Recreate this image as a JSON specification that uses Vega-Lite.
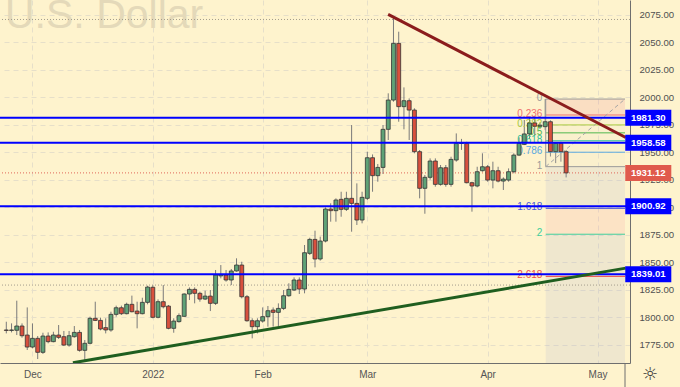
{
  "$schema": "https://vega.github.io/schema/vega-lite/v6.json",
  "width": 630,
  "height": 363,
  "autosize": {"type": "none"},
  "padding": {"left": 0, "top": 0, "right": 50, "bottom": 24},
  "background": "#fef3cd",
  "config": {
    "view": {"stroke": null},
    "font": "Liberation Sans",
    "axisY": {"labelOverlap": false, "grid": true, "gridColor": "#e6dfc9", "gridDash": [5, 4], "gridWidth": 1,
      "domainColor": "#6e6e6e", "ticks": false, "tickSize": 0, "labelPadding": 9, "labelFlush": false,
      "labelFontSize": 9.6, "labelColor": "#505050", "labelFont": "Liberation Sans"},
    "axisX": {"labelOverlap": false, "grid": true, "gridColor": "#e6dfc9", "gridDash": [5, 4], "gridWidth": 1,
      "domainColor": "#6e6e6e", "ticks": false, "tickSize": 0, "labelPadding": 6, "labelFlush": false,
      "labelFontSize": 10, "labelColor": "#555555", "labelFont": "Liberation Sans"}
  },
  "resolve": {"scale": {"fill": "independent", "stroke": "independent", "color": "independent"}},
  "datasets": {
    "candles": [
      {"i":0,"o":1788.4,"h":1795.9,"l":1785.3,"c":1788.0},
      {"i":1,"o":1788.0,"h":1794.4,"l":1786.2,"c":1788.4},
      {"i":2,"o":1788.1,"h":1815.0,"l":1783.8,"c":1792.0},
      {"i":3,"o":1792.0,"h":1794.4,"l":1781.4,"c":1783.2},
      {"i":4,"o":1783.8,"h":1808.9,"l":1770.2,"c":1772.9},
      {"i":5,"o":1772.9,"h":1794.4,"l":1771.7,"c":1780.8},
      {"i":6,"o":1780.8,"h":1782.9,"l":1762.0,"c":1768.1},
      {"i":7,"o":1768.1,"h":1785.9,"l":1766.6,"c":1782.9},
      {"i":8,"o":1782.9,"h":1786.2,"l":1776.3,"c":1777.8},
      {"i":9,"o":1777.8,"h":1786.8,"l":1777.2,"c":1783.8},
      {"i":10,"o":1783.8,"h":1792.9,"l":1780.2,"c":1781.7},
      {"i":11,"o":1782.3,"h":1787.5,"l":1773.8,"c":1774.7},
      {"i":12,"o":1774.7,"h":1787.5,"l":1773.2,"c":1783.2},
      {"i":13,"o":1782.3,"h":1792.0,"l":1781.4,"c":1786.2},
      {"i":14,"o":1786.2,"h":1788.4,"l":1768.7,"c":1769.9},
      {"i":15,"o":1769.9,"h":1779.3,"l":1760.5,"c":1776.3},
      {"i":16,"o":1776.3,"h":1800.5,"l":1775.3,"c":1799.0},
      {"i":17,"o":1799.0,"h":1814.1,"l":1796.5,"c":1797.1},
      {"i":18,"o":1797.1,"h":1799.6,"l":1788.1,"c":1789.3},
      {"i":19,"o":1790.5,"h":1799.0,"l":1785.3,"c":1788.4},
      {"i":20,"o":1788.4,"h":1805.0,"l":1786.8,"c":1802.6},
      {"i":21,"o":1802.6,"h":1810.5,"l":1800.5,"c":1808.6},
      {"i":22,"o":1808.6,"h":1810.5,"l":1802.0,"c":1803.2},
      {"i":23,"o":1803.2,"h":1813.2,"l":1802.6,"c":1811.7},
      {"i":24,"o":1811.7,"h":1819.6,"l":1804.4,"c":1805.0},
      {"i":25,"o":1805.6,"h":1814.1,"l":1789.9,"c":1803.2},
      {"i":26,"o":1803.2,"h":1817.7,"l":1802.6,"c":1813.5},
      {"i":27,"o":1813.5,"h":1828.6,"l":1811.7,"c":1827.4},
      {"i":28,"o":1827.2,"h":1829.2,"l":1799.0,"c":1799.9},
      {"i":29,"o":1799.9,"h":1816.2,"l":1799.0,"c":1814.1},
      {"i":30,"o":1814.1,"h":1829.2,"l":1808.0,"c":1809.5},
      {"i":31,"o":1810.1,"h":1811.1,"l":1789.0,"c":1789.9},
      {"i":32,"o":1789.9,"h":1799.0,"l":1785.9,"c":1796.5},
      {"i":33,"o":1796.0,"h":1803.5,"l":1795.0,"c":1801.4},
      {"i":34,"o":1800.8,"h":1821.7,"l":1800.5,"c":1821.1},
      {"i":35,"o":1821.1,"h":1827.1,"l":1815.6,"c":1825.3},
      {"i":36,"o":1825.3,"h":1827.1,"l":1812.6,"c":1821.7},
      {"i":37,"o":1821.7,"h":1823.2,"l":1814.1,"c":1816.5},
      {"i":38,"o":1816.5,"h":1824.1,"l":1815.6,"c":1819.2},
      {"i":39,"o":1819.2,"h":1824.7,"l":1805.6,"c":1812.6},
      {"i":40,"o":1812.6,"h":1842.9,"l":1811.1,"c":1838.3},
      {"i":41,"o":1837.5,"h":1847.4,"l":1835.3,"c":1838.6},
      {"i":42,"o":1838.3,"h":1842.9,"l":1832.3,"c":1833.8},
      {"i":43,"o":1833.8,"h":1843.8,"l":1829.2,"c":1842.0},
      {"i":44,"o":1842.0,"h":1853.5,"l":1841.4,"c":1847.4},
      {"i":45,"o":1847.4,"h":1850.4,"l":1817.1,"c":1818.6},
      {"i":46,"o":1818.6,"h":1820.2,"l":1795.9,"c":1796.8},
      {"i":47,"o":1796.8,"h":1799.0,"l":1780.8,"c":1791.4},
      {"i":48,"o":1791.4,"h":1799.0,"l":1785.3,"c":1796.8},
      {"i":49,"o":1796.5,"h":1808.9,"l":1795.0,"c":1800.5},
      {"i":50,"o":1800.5,"h":1810.2,"l":1791.4,"c":1805.9},
      {"i":51,"o":1806.5,"h":1808.9,"l":1791.4,"c":1804.4},
      {"i":52,"o":1804.4,"h":1812.6,"l":1792.0,"c":1808.0},
      {"i":53,"o":1808.0,"h":1824.7,"l":1806.5,"c":1819.5},
      {"i":54,"o":1819.5,"h":1830.8,"l":1818.6,"c":1825.3},
      {"i":55,"o":1824.7,"h":1836.2,"l":1823.8,"c":1833.8},
      {"i":56,"o":1833.8,"h":1836.2,"l":1821.1,"c":1825.6},
      {"i":57,"o":1825.6,"h":1865.6,"l":1821.7,"c":1858.6},
      {"i":58,"o":1858.0,"h":1872.2,"l":1856.5,"c":1870.7},
      {"i":59,"o":1870.7,"h":1878.6,"l":1845.3,"c":1852.9},
      {"i":60,"o":1852.9,"h":1873.2,"l":1851.4,"c":1869.2},
      {"i":61,"o":1869.2,"h":1899.8,"l":1868.0,"c":1898.3},
      {"i":62,"o":1898.3,"h":1903.5,"l":1886.8,"c":1896.8},
      {"i":63,"o":1896.8,"h":1908.0,"l":1886.8,"c":1906.5},
      {"i":64,"o":1907.1,"h":1914.0,"l":1891.3,"c":1898.0},
      {"i":65,"o":1898.0,"h":1914.0,"l":1896.5,"c":1908.0},
      {"i":66,"o":1908.0,"h":1974.6,"l":1877.7,"c":1903.4},
      {"i":67,"o":1903.4,"h":1921.6,"l":1883.8,"c":1888.3},
      {"i":68,"o":1888.3,"h":1914.0,"l":1885.3,"c":1908.9},
      {"i":69,"o":1908.0,"h":1950.4,"l":1906.5,"c":1944.9},
      {"i":70,"o":1944.9,"h":1947.9,"l":1914.0,"c":1928.6},
      {"i":71,"o":1928.6,"h":1939.2,"l":1923.1,"c":1936.1},
      {"i":72,"o":1936.1,"h":1974.6,"l":1930.1,"c":1970.7},
      {"i":73,"o":1970.7,"h":2003.4,"l":1961.0,"c":1997.3},
      {"i":74,"o":1997.3,"h":2073.0,"l":1995.8,"c":2048.8},
      {"i":75,"o":2048.8,"h":2059.4,"l":1977.6,"c":1991.3},
      {"i":76,"o":1991.3,"h":2008.8,"l":1970.7,"c":1996.7},
      {"i":77,"o":1996.7,"h":1998.8,"l":1961.0,"c":1988.2},
      {"i":78,"o":1988.2,"h":1989.8,"l":1948.9,"c":1950.4},
      {"i":79,"o":1950.4,"h":1951.9,"l":1908.0,"c":1917.1},
      {"i":80,"o":1917.1,"h":1929.2,"l":1894.0,"c":1927.1},
      {"i":81,"o":1927.1,"h":1944.3,"l":1925.0,"c":1941.9},
      {"i":82,"o":1941.9,"h":1944.3,"l":1918.6,"c":1920.7},
      {"i":83,"o":1920.7,"h":1938.3,"l":1919.5,"c":1935.8},
      {"i":84,"o":1935.8,"h":1938.3,"l":1918.6,"c":1920.7},
      {"i":85,"o":1920.7,"h":1945.8,"l":1918.6,"c":1943.4},
      {"i":86,"o":1942.8,"h":1967.0,"l":1941.3,"c":1957.9},
      {"i":87,"o":1957.9,"h":1962.0,"l":1952.0,"c":1958.3},
      {"i":88,"o":1957.9,"h":1959.4,"l":1921.6,"c":1922.2},
      {"i":89,"o":1922.2,"h":1923.1,"l":1895.9,"c":1919.2},
      {"i":90,"o":1919.2,"h":1936.7,"l":1918.0,"c":1932.2},
      {"i":91,"o":1933.1,"h":1948.9,"l":1932.2,"c":1936.7},
      {"i":92,"o":1936.7,"h":1938.3,"l":1923.1,"c":1924.6},
      {"i":93,"o":1924.6,"h":1941.3,"l":1917.1,"c":1933.1},
      {"i":94,"o":1933.1,"h":1936.7,"l":1922.5,"c":1923.7},
      {"i":95,"o":1923.7,"h":1927.1,"l":1915.6,"c":1925.5},
      {"i":96,"o":1924.6,"h":1935.2,"l":1923.1,"c":1932.2},
      {"i":97,"o":1932.2,"h":1948.9,"l":1930.7,"c":1947.3},
      {"i":98,"o":1947.3,"h":1963.4,"l":1946.4,"c":1957.9},
      {"i":99,"o":1957.0,"h":1979.2,"l":1956.4,"c":1966.5},
      {"i":100,"o":1966.5,"h":1981.0,"l":1962.0,"c":1976.5},
      {"i":101,"o":1976.5,"h":1983.0,"l":1965.0,"c":1973.5},
      {"i":102,"o":1973.5,"h":1977.0,"l":1971.0,"c":1974.5},
      {"i":103,"o":1973.1,"h":1998.2,"l":1970.0,"c":1977.6},
      {"i":104,"o":1977.6,"h":1979.0,"l":1946.0,"c":1950.4},
      {"i":105,"o":1950.4,"h":1959.0,"l":1940.0,"c":1958.0},
      {"i":106,"o":1958.0,"h":1959.5,"l":1941.3,"c":1950.4},
      {"i":107,"o":1950.4,"h":1952.0,"l":1927.0,"c":1931.12}
    ],
    "hlines": [{"p":1981.30},{"p":1958.58},{"p":1900.92},{"p":1839.01}],
    "tags": [
      {"k":"level","p":1981.30},{"k":"level","p":1958.58},{"k":"level","p":1900.92},{"k":"level","p":1839.01},{"k":"last","p":1931.12}
    ],
    "dotted": [{"k":"hi","p":2070.5},{"k":"lo","p":1829.2},{"k":"last","p":1931.12}],
    "fib": [
      {"lvl":"0","p":1998.2},{"lvl":"0.236","p":1983.7},{"lvl":"0.382","p":1974.7},{"lvl":"0.5","p":1967.5},
      {"lvl":"0.618","p":1960.3},{"lvl":"0.786","p":1949.9},{"lvl":"1","p":1936.8},{"lvl":"1.618","p":1898.9},
      {"lvl":"2","p":1875.4},{"lvl":"2.618","p":1837.1}
    ],
    "zones": [
      {"z":"a","top":1998.2,"bot":1983.7},{"z":"b","top":1983.7,"bot":1936.8},{"z":"c","top":1936.8,"bot":1898.9},
      {"z":"d","top":1898.9,"bot":1875.4},{"z":"e","top":1875.4,"bot":1758.4}
    ],
    "trend": [
      {"n":"down","i":72.98,"p":2075.2},{"n":"down","i":118.4,"p":1963.3},
      {"n":"up","i":12.73,"p":1758.6},{"n":"up","i":118.4,"p":1844.6}
    ],
    "wm": [{"t":"U.S. Dollar"}],
    "icon": [{"t":"☼"}]
  },
  "layer": [
    {
      "data": {"name": "candles"},
      "mark": {"type": "rule", "color": "#7a7a7a", "strokeWidth": 1},
      "encoding": {
        "x": {"field": "i", "type": "quantitative", "title": null,
          "scale": {"domain": [-0.25, 118.25], "nice": false, "zero": false},
          "axis": {"orient": "bottom", "values": [5, 28, 49, 69, 92, 113], "title": null,
            "labelExpr": "datum.value == 5 ? 'Dec' : datum.value == 28 ? '2022' : datum.value == 49 ? 'Feb' : datum.value == 69 ? 'Mar' : datum.value == 92 ? 'Apr' : 'May'"}},
        "y": {"field": "l", "type": "quantitative", "title": null,
          "scale": {"domain": [1758.4, 2088.2], "nice": false, "zero": false},
          "axis": {"orient": "right", "format": ".2f", "title": null, "values": [1775,1800,1825,1850,1875,1900,1925,1950,1975,2000,2025,2050,2075]}},
        "y2": {"field": "h"}
      }
    },
    {
      "data": {"name": "wm"},
      "mark": {"type": "text", "align": "left", "baseline": "alphabetic", "fontSize": 41, "color": "#e4d9b9", "font": "Liberation Sans"},
      "encoding": {
        "x": {"datum": -0.25, "type": "quantitative", "title": null},
        "y": {"datum": 2062.5, "type": "quantitative", "title": null,
          "axis": {"orient": "right", "format": ".2f", "title": null, "values": [1775,1800,1825,1850,1875,1900,1925,1950,1975,2000,2025,2050,2075]}},
        "text": {"field": "t"}
      }
    },
    {
      "data": {"name": "zones"},
      "mark": {"type": "rect", "opacity": 0.17},
      "encoding": {
        "x": {"datum": 103.1, "type": "quantitative", "title": null},
        "x2": {"datum": 118.25},
        "y": {"field": "top", "type": "quantitative", "title": null,
          "axis": {"orient": "right", "format": ".2f", "title": null, "values": [1775,1800,1825,1850,1875,1900,1925,1950,1975,2000,2025,2050,2075]}},
        "y2": {"field": "bot"},
        "fill": {"field": "z", "type": "nominal", "legend": null,
          "scale": {"domain": ["a","b","c","d","e"], "range": ["#e5768f","#e5e0cd","#a7aed3","#f295a1","#a7aed3"]}}
      }
    },
    {
      "data": {"name": "dotted"},
      "mark": {"type": "rule", "strokeDash": [1, 2], "strokeWidth": 1},
      "encoding": {
        "y": {"field": "p", "type": "quantitative", "title": null,
          "axis": {"orient": "right", "format": ".2f", "title": null, "values": [1775,1800,1825,1850,1875,1900,1925,1950,1975,2000,2025,2050,2075]}},
        "stroke": {"field": "k", "type": "nominal", "legend": null,
          "scale": {"domain": ["hi","lo","last"], "range": ["#a39d8c","#a39d8c","#e0665a"]}}
      }
    },
    {
      "data": {"name": "fib"},
      "mark": {"type": "rule", "strokeWidth": 1},
      "encoding": {
        "x": {"datum": 103.1, "type": "quantitative", "title": null},
        "x2": {"datum": 118.25},
        "y": {"field": "p", "type": "quantitative", "title": null,
          "axis": {"orient": "right", "format": ".2f", "title": null, "values": [1775,1800,1825,1850,1875,1900,1925,1950,1975,2000,2025,2050,2075]}},
        "stroke": {"field": "lvl", "type": "nominal", "legend": null,
          "scale": {"domain": ["0","0.236","0.382","0.5","0.618","0.786","1","1.618","2","2.618"],
            "range": ["#9a9a9a","#ef6f6c","#a8c93c","#52b84f","#2fc09a","#5aa9e0","#9a9a9a","#4b55d8","#40cf9b","#ef4b4b"]}}
      }
    },
    {
      "data": {"name": "wm"},
      "mark": {"type": "rule", "color": "#9a9a9a", "strokeWidth": 1},
      "encoding": {
        "x": {"datum": 103.1, "type": "quantitative", "title": null},
        "y": {"datum": 1998.2, "type": "quantitative", "title": null,
          "axis": {"orient": "right", "format": ".2f", "title": null, "values": [1775,1800,1825,1850,1875,1900,1925,1950,1975,2000,2025,2050,2075]}},
        "y2": {"datum": 1936.8}
      }
    },
    {
      "data": {"name": "wm"},
      "mark": {"type": "rule", "color": "#a5a5a5", "strokeWidth": 1, "strokeDash": [4, 3]},
      "encoding": {
        "x": {"datum": 103.1, "type": "quantitative", "title": null},
        "x2": {"datum": 118.25},
        "y": {"datum": 1936.8, "type": "quantitative", "title": null,
          "axis": {"orient": "right", "format": ".2f", "title": null, "values": [1775,1800,1825,1850,1875,1900,1925,1950,1975,2000,2025,2050,2075]}},
        "y2": {"datum": 1998.2}
      }
    },
    {
      "data": {"name": "fib"},
      "mark": {"type": "text", "align": "right", "baseline": "middle", "dy": -1, "fontSize": 10, "font": "Liberation Sans"},
      "encoding": {
        "x": {"datum": 102.45, "type": "quantitative", "title": null},
        "y": {"field": "p", "type": "quantitative", "title": null,
          "axis": {"orient": "right", "format": ".2f", "title": null, "values": [1775,1800,1825,1850,1875,1900,1925,1950,1975,2000,2025,2050,2075]}},
        "text": {"field": "lvl"},
        "color": {"field": "lvl", "type": "nominal", "legend": null,
          "scale": {"domain": ["0","0.236","0.382","0.5","0.618","0.786","1","1.618","2","2.618"],
            "range": ["#9a9a9a","#ef6f6c","#a8c93c","#52b84f","#2fc09a","#5aa9e0","#9a9a9a","#4b55d8","#40cf9b","#ef4b4b"]}}
      }
    },
    {
      "data": {"name": "candles"},
      "mark": {"type": "bar", "width": 3.9, "stroke": "#333333", "strokeWidth": 0.8},
      "encoding": {
        "x": {"field": "i", "type": "quantitative", "title": null},
        "y": {"field": "o", "type": "quantitative", "title": null,
          "axis": {"orient": "right", "format": ".2f", "title": null, "values": [1775,1800,1825,1850,1875,1900,1925,1950,1975,2000,2025,2050,2075]}},
        "y2": {"field": "c"},
        "fill": {"condition": {"test": "datum.c >= datum.o", "value": "#5fa277"}, "value": "#d8503d"}
      }
    },
    {
      "data": {"name": "hlines"},
      "mark": {"type": "rule", "color": "#0000ff", "strokeWidth": 2},
      "encoding": {
        "y": {"field": "p", "type": "quantitative", "title": null,
          "axis": {"orient": "right", "format": ".2f", "title": null, "values": [1775,1800,1825,1850,1875,1900,1925,1950,1975,2000,2025,2050,2075]}}
      }
    },
    {
      "data": {"name": "trend"},
      "mark": {"type": "line", "strokeWidth": 3, "clip": true},
      "encoding": {
        "x": {"field": "i", "type": "quantitative", "title": null},
        "y": {"field": "p", "type": "quantitative", "title": null,
          "axis": {"orient": "right", "format": ".2f", "title": null, "values": [1775,1800,1825,1850,1875,1900,1925,1950,1975,2000,2025,2050,2075]}},
        "stroke": {"field": "n", "type": "nominal", "legend": null,
          "scale": {"domain": ["down","up"], "range": ["#8b1c1c","#1f5e1f"]}}
      }
    },
    {
      "data": {"name": "tags"},
      "mark": {"type": "rect", "height": 16},
      "encoding": {
        "x": {"datum": 118.3, "type": "quantitative", "title": null},
        "x2": {"datum": 127.1},
        "y": {"field": "p", "type": "quantitative", "title": null,
          "axis": {"orient": "right", "format": ".2f", "title": null, "values": [1775,1800,1825,1850,1875,1900,1925,1950,1975,2000,2025,2050,2075]}},
        "fill": {"condition": {"test": "datum.k == 'last'", "value": "#e05a4c"}, "value": "#0000ff"}
      }
    },
    {
      "data": {"name": "tags"},
      "mark": {"type": "text", "fontSize": 9.6, "fontWeight": "bold", "color": "#ffffff", "baseline": "middle", "align": "center", "font": "Liberation Sans"},
      "encoding": {
        "x": {"datum": 122.7, "type": "quantitative", "title": null},
        "y": {"field": "p", "type": "quantitative", "title": null,
          "axis": {"orient": "right", "format": ".2f", "title": null, "values": [1775,1800,1825,1850,1875,1900,1925,1950,1975,2000,2025,2050,2075]}},
        "text": {"field": "p", "type": "quantitative", "format": ".2f"}
      }
    },
    {
      "data": {"name": "icon"},
      "mark": {"type": "rule", "color": "#6e6e6e", "strokeWidth": 1},
      "encoding": {
        "x": {"datum": 118.25, "type": "quantitative", "title": null},
        "y": {"datum": 1758.4, "type": "quantitative", "title": null,
          "axis": {"orient": "right", "format": ".2f", "title": null, "values": [1775,1800,1825,1850,1875,1900,1925,1950,1975,2000,2025,2050,2075]}},
        "y2": {"datum": 1736}
      }
    },
    {
      "data": {"name": "icon"},
      "mark": {"type": "text", "fontSize": 18, "color": "#3a3a3a", "baseline": "middle", "align": "center", "font": "DejaVu Sans"},
      "encoding": {
        "x": {"datum": 123.0, "type": "quantitative", "title": null},
        "y": {"datum": 1747.5, "type": "quantitative", "title": null,
          "axis": {"orient": "right", "format": ".2f", "title": null, "values": [1775,1800,1825,1850,1875,1900,1925,1950,1975,2000,2025,2050,2075]}},
        "text": {"field": "t"}
      }
    }
  ]
}
